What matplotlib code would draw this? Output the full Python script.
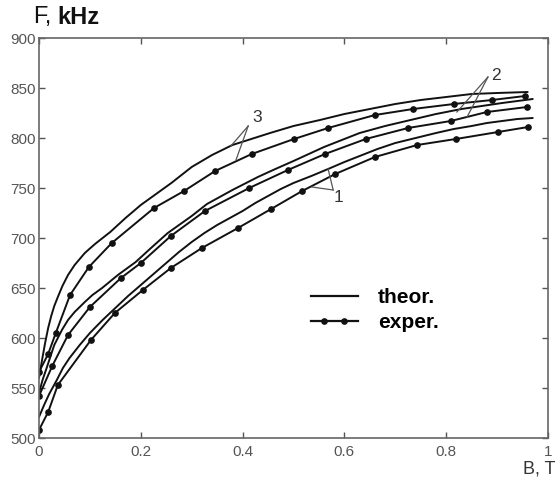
import matplotlib
matplotlib.use("Agg")
import matplotlib.pyplot as plt
from matplotlib.lines import Line2D
from matplotlib.legend_handler import HandlerBase

plt.rcParams['font.family'] = ['Liberation Sans', 'DejaVu Sans']

# ---- data ----
# theoretical curves
B_T3 = [0, 0.006, 0.012, 0.018, 0.024, 0.03, 0.037, 0.046, 0.057, 0.07, 0.09, 0.11, 0.14, 0.17, 0.2,
        0.23, 0.26, 0.3, 0.34, 0.38, 0.454, 0.5, 0.552, 0.6, 0.65, 0.7, 0.75, 0.8, 0.85, 0.9, 0.96]
F_T3 = [560, 578, 595, 610, 622, 632, 641, 652, 663, 673, 685, 694, 706, 720, 733,
        744, 755, 771, 783, 793, 805, 812, 818, 824, 829, 834, 838, 841, 844, 845, 846]

B_T2 = [0, 0.007, 0.015, 0.03, 0.045, 0.057, 0.07, 0.09, 0.105, 0.124, 0.155, 0.19, 0.22, 0.253, 0.3,
        0.33, 0.38, 0.43, 0.46, 0.5, 0.56, 0.63, 0.68, 0.73, 0.78, 0.83, 0.87, 0.91, 0.94, 0.97]
F_T2 = [545, 558, 570, 593, 608, 618, 626, 636, 643, 650, 663, 676, 690, 705, 722,
        734, 748, 761, 768, 777, 791, 805, 812, 818, 824, 829, 832, 835, 837, 839]

B_T1 = [0, 0.005, 0.01, 0.02, 0.035, 0.047, 0.06, 0.08, 0.1, 0.125, 0.15, 0.175, 0.2, 0.225, 0.25,
        0.275, 0.3, 0.325, 0.35, 0.375, 0.4, 0.425, 0.45, 0.475, 0.5, 0.535, 0.568, 0.6, 0.63, 0.665,
        0.7, 0.74, 0.78, 0.815, 0.85, 0.88, 0.91, 0.94, 0.97]
F_T1 = [521, 527, 533, 544, 558, 570, 580, 593, 605, 618, 630, 642, 653, 664, 675,
        686, 696, 705, 713, 720, 727, 735, 742, 749, 755, 762, 769, 776, 782, 789,
        795, 800, 805, 809, 812, 815, 817, 819, 820]

# experimental curves
B_E3 = [0.0, 0.018, 0.033, 0.061, 0.098, 0.143, 0.226, 0.285, 0.346, 0.418, 0.501, 0.568, 0.66, 0.735, 0.815, 0.89, 0.955]
F_E3 = [566, 584, 605, 643, 671, 695, 730, 747, 767, 784, 799, 810, 823, 829, 834, 838, 842]

B_E2 = [0.0, 0.026, 0.057, 0.1, 0.161, 0.2, 0.259, 0.326, 0.413, 0.489, 0.562, 0.642, 0.725, 0.809, 0.88, 0.959]
F_E2 = [542, 572, 603, 631, 660, 675, 702, 727, 750, 768, 784, 799, 810, 817, 826, 831]

B_E1 = [0.0, 0.018, 0.037, 0.102, 0.149, 0.204, 0.259, 0.32, 0.391, 0.456, 0.517, 0.582, 0.66, 0.743, 0.819, 0.902, 0.961]
F_E1 = [508, 526, 553, 598, 625, 648, 670, 690, 710, 729, 747, 764, 781, 793, 799, 806, 811]

x_ticks = [0, 0.2, 0.4, 0.6, 0.8, 1]
x_tick_labels = ['0', '0.2', '0.4', '0.6', '0.8', '1']
y_ticks = [500, 550, 600, 650, 700, 750, 800, 850, 900]

# curve labels: text and pointer lines (data coordinates)
label_text = ['3', '2', '1']
label_pos = [(0.428, 820), (0.897, 862), (0.588, 740)]
pointer_from = [(0.411, 812), (0.882, 861), (0.578, 748)]
pointer_to = [[(0.377, 792), (0.387, 778)], [(0.821, 826), (0.841, 821)], [(0.536, 751), (0.568, 769)]]

# ---- figure ----
fig = plt.figure(figsize=(5.56, 4.87), dpi=100)
ax = fig.add_axes([39/556, 49/487, 509/556, 400/487])

lc = '#111111'
lw = 1.4
for B, F in [(B_T3, F_T3), (B_T2, F_T2), (B_T1, F_T1)]:
    ax.plot(B, F, color=lc, lw=lw, solid_capstyle='round', solid_joinstyle='round')
for B, F in [(B_E3, F_E3), (B_E2, F_E2), (B_E1, F_E1)]:
    ax.plot(B, F, color=lc, lw=lw, marker='o', ms=3.8, solid_joinstyle='round')

for t, p, pf, pts in zip(label_text, label_pos, pointer_from, pointer_to):
    ax.text(p[0], p[1], t, fontsize=12.5, color='#333333', ha='center', va='center')
    for q in pts:
        ax.plot([pf[0], q[0]], [pf[1], q[1]], color='#555555', lw=0.9)

ax.set_xlim(0, 1)
ax.set_ylim(500, 900)
ax.set_xticks(x_ticks)
ax.set_xticklabels(x_tick_labels)
ax.set_yticks(y_ticks)
ax.tick_params(direction='in', top=True, right=True, length=4, width=1,
               color='#555555', labelcolor='#555555', labelsize=11)
ax.tick_params(axis='x', pad=5)
ax.tick_params(axis='y', pad=2.5)
for s in ax.spines.values():
    s.set_color('#666666')
    s.set_linewidth(1.2)


class DotLineHandler(HandlerBase):
    def __init__(self, fracs, **kw):
        super().__init__(**kw)
        self.fracs = fracs

    def create_artists(self, legend, orig_handle, xdescent, ydescent, width, height, fontsize, trans):
        y = height / 2.0 - ydescent
        x0 = -xdescent
        line = Line2D([x0, x0 + width], [y, y], color=orig_handle.get_color(),
                      lw=orig_handle.get_linewidth())
        arts = [line]
        if self.fracs:
            marks = Line2D([x0 + f * width for f in self.fracs], [y] * len(self.fracs),
                           ls='none', marker='o', ms=orig_handle.get_markersize(),
                           color=orig_handle.get_color())
            arts.append(marks)
        for a in arts:
            a.set_transform(trans)
        return arts


h_theor = Line2D([], [], color=lc, lw=1.6)
h_exper = Line2D([], [], color=lc, lw=1.6, marker='o', ms=3.8)
leg = ax.legend([h_theor, h_exper], ['theor.', 'exper.'],
                handler_map={h_theor: DotLineHandler([]),
                             h_exper: DotLineHandler([0.28, 0.7])},
                loc='upper left', bbox_to_anchor=(272/509, 150/400),
                frameon=False, handlelength=2.25, handletextpad=0.95,
                labelspacing=0.3, borderaxespad=0, borderpad=0,
                prop={'weight': 'bold', 'size': 15})

fig.text(33/556, 1 - 17/487, 'F,', fontsize=17, ha='left', va='center', color='#111111')
fig.text(57/556, 1 - 17/487, 'kHz', fontsize=17, fontweight='bold', ha='left', va='center', color='#111111')
fig.text(555/556, 1 - 469/487, 'B, T', fontsize=13, ha='right', va='center', color='#333333')

fig.savefig('out.png', dpi=100)
